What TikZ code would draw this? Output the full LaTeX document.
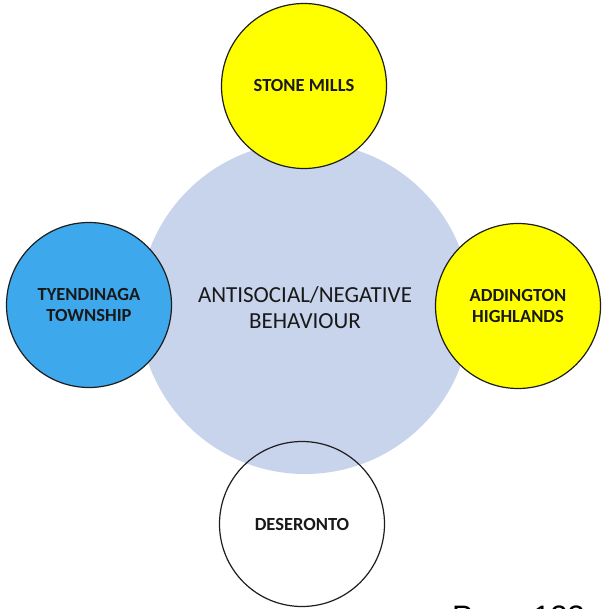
\documentclass[tikz,border=0pt]{standalone}
\usepackage{fontspec}
\setmainfont{Carlito}
\newfontfamily\pagefont{Liberation Sans}
\definecolor{hubfill}{HTML}{C8D4EC}
\definecolor{sunny}{HTML}{FFFF00}
\definecolor{lakeblue}{HTML}{3EA8EC}
\definecolor{rim}{HTML}{1E1E1E}
\begin{document}
\begin{tikzpicture}[x=1pt,y=-1pt,
  hub/.style={circle,fill=hubfill,minimum size=332pt,inner sep=0pt,align=center,
    font=\fontsize{23}{26}\selectfont,text=black!90},
  area/.style={circle,draw=rim,line width=1.2pt,minimum size=165pt,inner sep=0pt,
    align=center,font=\bfseries\fontsize{18.5}{21}\selectfont,text=black!90}]
  \useasboundingbox (0,0) rectangle (602,609);
  % central theme
  \node[hub] (hub) at (305,308) {ANTISOCIAL/NEGATIVE\\BEHAVIOUR};
  % surrounding communities
  \node[area,fill=sunny] (stone) at (304,86) {STONE MILLS};
  \node[area,fill=lakeblue] (tyend) at (89,305) {TYENDINAGA\\TOWNSHIP};
  \node[area,fill=sunny] (addin) at (518,306) {ADDINGTON\\HIGHLANDS};
  \node[area] (deser) at (302,524) {DESERONTO};
  % page footer, mostly below the page edge
  \node[anchor=base west,inner sep=0pt,font=\pagefont\fontsize{31}{31}\selectfont] (pageno) at (452,627) {Page 123};
\end{tikzpicture}
\end{document}
